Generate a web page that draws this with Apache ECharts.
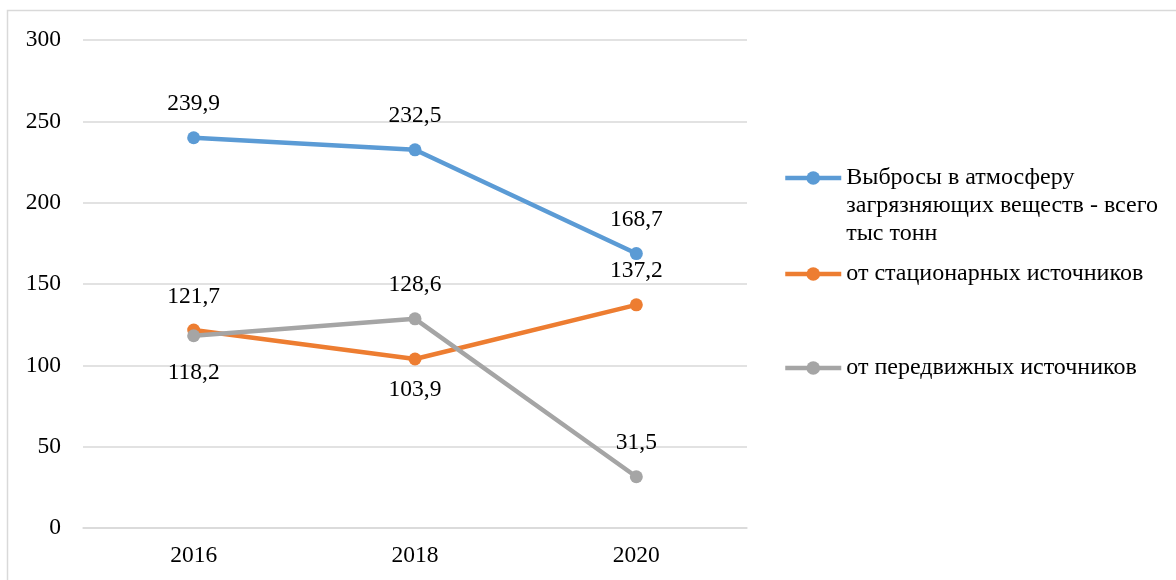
<!DOCTYPE html>
<html><head><meta charset="utf-8">
<script src="https://cdn.jsdelivr.net/npm/echarts@6/dist/echarts.min.js"></script>
<style>html,body{margin:0;padding:0;background:#fff}#c{width:1176px;height:580px}</style>
</head><body><div id="c"></div>
<script>
const years = ['2016', '2018', '2020'];
const totalName = 'Выбросы в атмосферу\nзагрязняющих веществ - всего\nтыс тонн';
const stationaryName = 'от стационарных источников';
const mobileName = 'от передвижных источников';
const totalValues = [239.9, 232.5, 168.7];
const stationaryValues = [121.7, 103.9, 137.2];
const mobileValues = [118.2, 128.6, 31.5];
const stationaryLabelPos = ['top', 'bottom', 'top'];
const mobileLabelPos = ['bottom', 'top', 'top'];
const yTicks = [0, 50, 100, 150, 200, 250, 300];

const FONT = 'Liberation Serif';
const FS = 23.5;
const fmt = p => String(p.value).replace('.', ',');
function items(vals, pos, bottomDist) {
  return vals.map((v, i) => {
    if (!pos) return v;
    const it = { value: v, label: { position: pos[i] } };
    if (pos[i] === 'bottom') it.label.distance = bottomDist;
    return it;
  });
}
function mkSeries(name, vals, color, pos, bottomDist) {
  return {
    name, type: 'line', data: items(vals, pos, bottomDist),
    symbol: 'circle', symbolSize: 13,
    itemStyle: { color },
    lineStyle: { color, width: 4.5 },
    label: { show: true, position: 'top', distance: 15, formatter: fmt,
      fontFamily: FONT, fontSize: FS, color: '#000' },
    emphasis: { disabled: true },
    animation: false
  };
}
const chart = echarts.init(document.getElementById('c'));
const legendBase = {
  orient: 'vertical', left: 783, itemWidth: 56, itemHeight: 17, itemGap: 0, padding: 0,
  lineStyle: { width: 4.5 },
  textStyle: { fontFamily: FONT, fontSize: 24, color: '#000', lineHeight: 28 },
  selectedMode: false
};
chart.setOption({
  backgroundColor: '#fff',
  graphic: [{ type: 'rect', shape: { x: 7.5, y: 10.5, width: 1200, height: 620 },
    style: { fill: 'none', stroke: '#d9d9d9', lineWidth: 1.5 }, silent: true }],
  grid: { left: 83, right: 429, top: 40, bottom: 52 },
  legend: [
    Object.assign({}, legendBase, { data: [totalName], top: 108,
      formatter: n => '\n\n' + n }),
    Object.assign({}, legendBase, { data: [stationaryName], top: 260 }),
    Object.assign({}, legendBase, { data: [mobileName], top: 354 })
  ],
  xAxis: {
    type: 'category', data: years, boundaryGap: true,
    axisLine: { lineStyle: { color: '#d9d9d9', width: 1.5 } },
    axisTick: { show: false },
    axisLabel: { fontFamily: FONT, fontSize: FS, color: '#000', margin: 16 }
  },
  yAxis: {
    type: 'value', min: yTicks[0], max: yTicks[yTicks.length - 1], interval: 50,
    axisLine: { show: false }, axisTick: { show: false },
    splitLine: { lineStyle: { color: '#d9d9d9', width: 1.5 } },
    axisLabel: { fontFamily: FONT, fontSize: FS, color: '#000', margin: 22 }
  },
  series: [
    mkSeries(totalName, totalValues, '#5B9BD5'),
    mkSeries(stationaryName, stationaryValues, '#ED7D31', stationaryLabelPos, 12),
    mkSeries(mobileName, mobileValues, '#A5A5A5', mobileLabelPos, 19)
  ]
});
</script></body></html>
